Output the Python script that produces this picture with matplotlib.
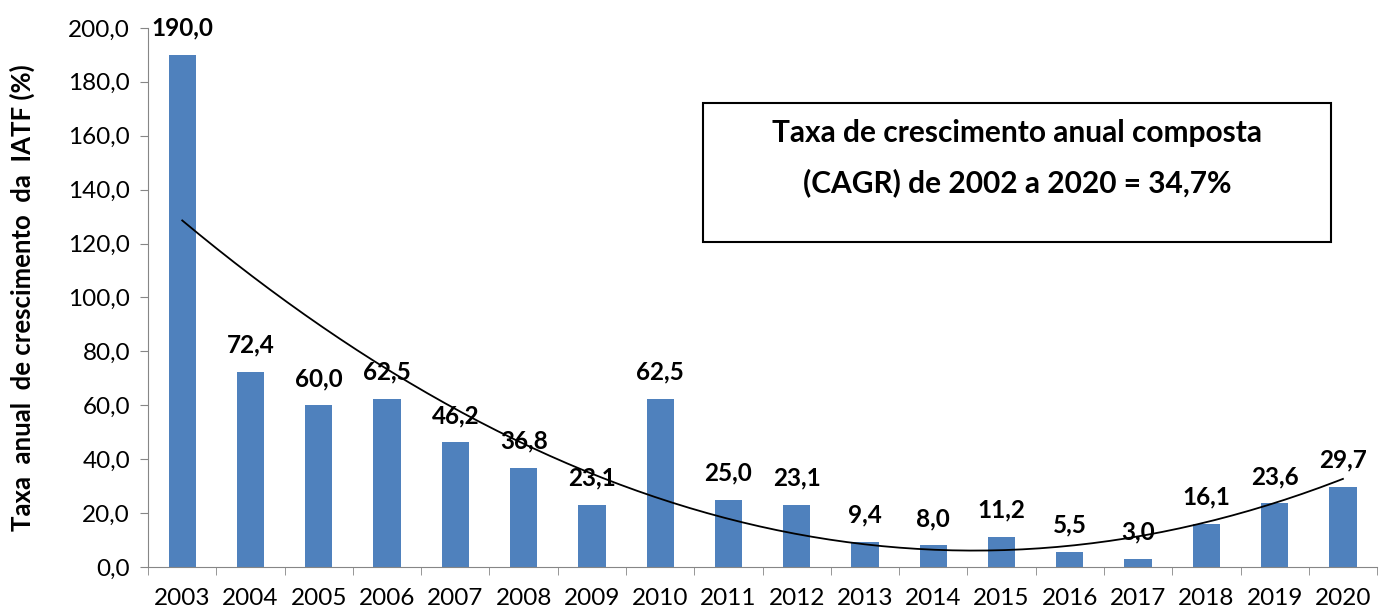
import matplotlib
matplotlib.use('Agg')
import matplotlib.pyplot as plt
import numpy as np

years = ['2003', '2004', '2005', '2006', '2007', '2008', '2009', '2010', '2011',
         '2012', '2013', '2014', '2015', '2016', '2017', '2018', '2019', '2020']
taxa = [190.0, 72.4, 60.0, 62.5, 46.2, 36.8, 23.1, 62.5, 25.0,
        23.1, 9.4, 8.0, 11.2, 5.5, 3.0, 16.1, 23.6, 29.7]
box_text = 'Taxa de crescimento anual composta\n(CAGR) de 2002 a 2020 = 34,7%'
ylab = 'Taxa  anual  de crescimento  da  IATF (%)'

plt.rcParams['font.family'] = ['Lato', 'DejaVu Sans']

fig = plt.figure(figsize=(13.84, 6.12), dpi=100)
ax = fig.add_axes([0.107, 0.0735, 0.888, 0.881])

x = np.arange(len(years))
ax.bar(x, taxa, width=0.4, color='#4f81bd', zorder=2)

# trend: polinomio de ordem 2 (como no Excel)
coef = np.polyfit(x + 1, taxa, 2)
xs = np.linspace(0, len(years) - 1, 200)
ax.plot(xs, np.polyval(coef, xs + 1), color='black', lw=1.3, zorder=3)

for xi, v in zip(x, taxa):
    ax.annotate(('%.1f' % v).replace('.', ','), (xi, v), xytext=(0, 11),
                textcoords='offset points', ha='center', va='bottom',
                fontsize=17.5, fontweight='bold', zorder=4)

ax.set_xlim(-0.5, len(years) - 0.5)
ax.set_ylim(0, 200)
ax.set_yticks(np.arange(0, 201, 20))
ax.set_yticklabels([('%.1f' % t).replace('.', ',') for t in np.arange(0, 201, 20)], fontsize=17.5)
ax.set_xticks(x)
ax.set_xticklabels(years, fontsize=17.5)
ax.set_xticks(np.arange(-0.5, len(years), 1), minor=True)
ax.tick_params(axis='x', which='major', length=0, pad=15)
ax.tick_params(axis='x', which='minor', length=6, color='#868686')
ax.tick_params(axis='y', length=6, color='#868686', pad=7)
for s in ['top', 'right']:
    ax.spines[s].set_visible(False)
for s in ['left', 'bottom']:
    ax.spines[s].set_color('#868686')
ax.set_ylabel(ylab, fontsize=18.5, fontweight='bold')
ax.yaxis.set_label_coords(-0.092, 0.5)

fig.text(1017 / 1384, 1 - 158 / 612, box_text, ha='center', va='center', fontsize=21.5,
         fontweight='bold', linespacing=1.85)
rect = plt.Rectangle((703 / 1384, 1 - 242 / 612), (1331 - 703) / 1384, (242 - 103) / 612,
                     transform=fig.transFigure, fill=False, edgecolor='black', lw=1.5)
fig.patches.append(rect)

fig.savefig('out.png', dpi=100)
